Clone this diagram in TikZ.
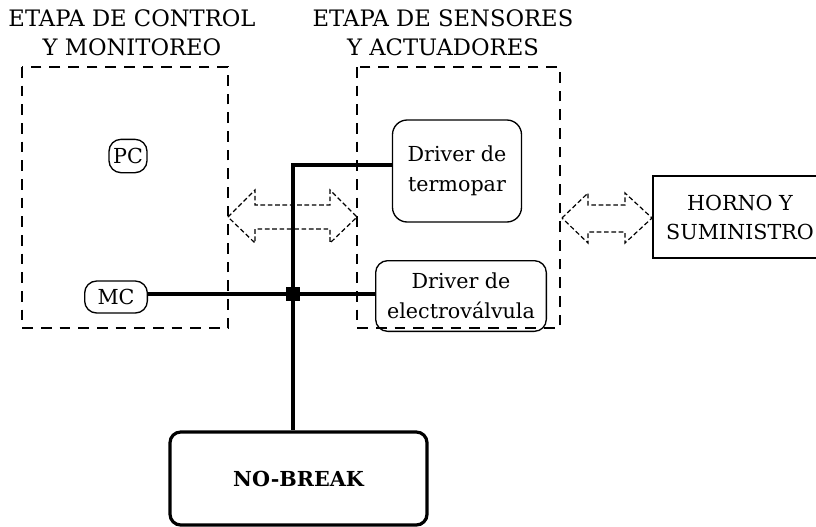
\documentclass[tikz,border=0pt]{standalone}
\usepackage{fontspec}
\setmainfont{DejaVu Serif}
\begin{document}
\begin{tikzpicture}[x=0.75pt,y=-0.75pt,
  dbox/.style={draw, dash pattern=on 8pt off 6pt, line width=1pt},
  rbox/.style={draw, rounded corners=9pt, line width=1pt, align=center, inner sep=0pt,
    font=\fontsize{15.5}{22.5}\selectfont},
  wire/.style={line width=2.8pt},
  darrow/.style={draw, dash pattern=on 3.5pt off 2pt, line width=0.9pt},
  title/.style={align=center, font=\fontsize{17}{21.75}\selectfont, inner sep=0pt}]
\clip (0,0) rectangle (816,526);
\useasboundingbox (0,0) rectangle (816,526);
% titles
\node[title] (t1) at (132,33) {ETAPA DE CONTROL\\Y MONITOREO};
\node[title] (t2) at (443,33) {ETAPA DE SENSORES\\Y ACTUADORES};
% dashed stage boxes
\draw[dbox] (22,67) rectangle (228,328);
\draw[dbox] (357,67) rectangle (560,328);
% double arrows
\draw[darrow] (228,217) -- (255,190) -- (255,205) -- (330,205) -- (330,190) -- (357,217)
  -- (330,243) -- (330,229) -- (255,229) -- (255,243) -- cycle;
\draw[darrow] (562,218) -- (588,193) -- (588,205) -- (625,205) -- (625,193) -- (652,218)
  -- (625,243) -- (625,232) -- (588,232) -- (588,243) -- cycle;
% nodes
\node[rbox, minimum width=28.5pt, minimum height=25pt] (PC) at (128,156) {PC};
\node[rbox, minimum width=47pt, minimum height=24pt] (MC) at (116,297) {MC};
\node[rbox, rounded corners=11pt, minimum width=96.75pt, minimum height=76.5pt] (TP) at (457,171) {Driver de\\termopar};
\node[rbox, minimum width=128pt, minimum height=53pt] (EV) at (461,296) {Driver de\\electroválvula};
\node[draw, line width=2.4pt, rounded corners=8pt, minimum width=192.75pt, minimum height=69.75pt,
  font=\fontsize{15.5}{16}\selectfont\bfseries] (NB) at (298.5,478.5) {NO-BREAK};
\node[draw, line width=1pt, minimum width=130.5pt, minimum height=61.5pt, align=center,
  inner sep=0pt, font=\fontsize{15.5}{21.75}\selectfont] (HS) at (740,217) {HORNO Y\\SUMINISTRO};
% wiring
\node[fill, minimum size=10.5pt, inner sep=0pt] (J) at (293,294) {};
\coordinate (T) at (293,165);
\draw[wire] (T -| TP.west) -- (T) -- (T |- NB.north);
\draw[wire] (J -| MC.east) -- (J) -- (J -| EV.west);
\end{tikzpicture}
\end{document}
